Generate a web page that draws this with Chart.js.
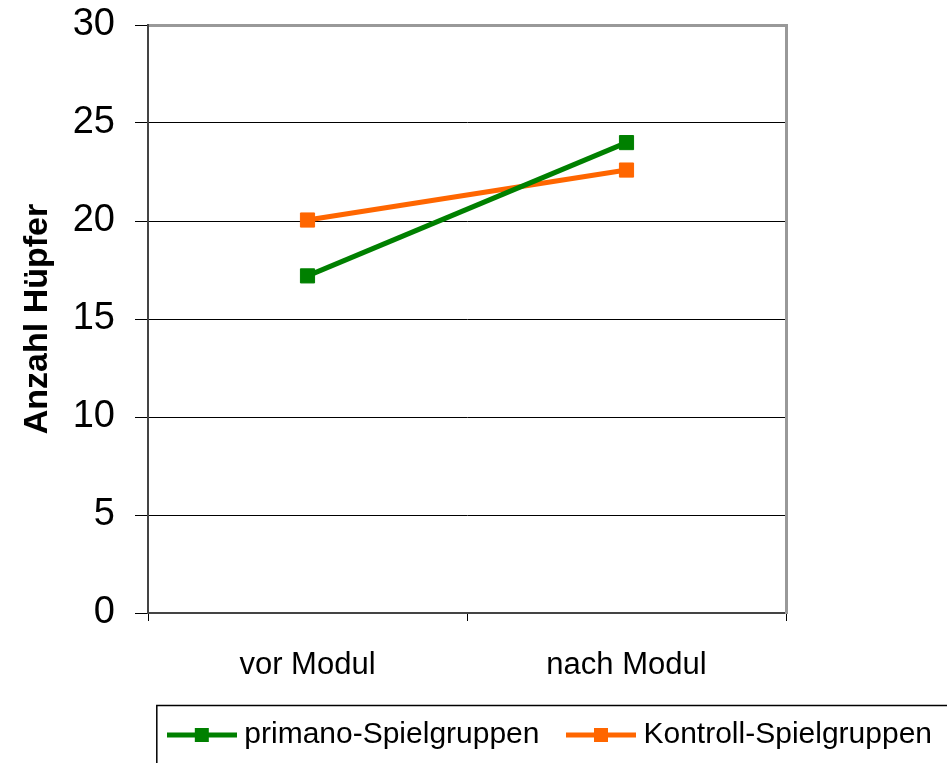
<!DOCTYPE html>
<html>
<head>
    <meta charset="utf-8">
    <title>Anzahl Hüpfer</title>
    <script src="https://cdn.jsdelivr.net/npm/chart.js"></script>
    <style>
        html, body { margin: 0; padding: 0; background: #fff; }
    </style>
</head>
<body>
    <div style="width: 947px; height: 763px">
        <canvas id="hopChart"></canvas>
    </div>
    <script>
        // data
        const categories = ['vor Modul', 'nach Modul'];
        const primanoValues = [17.2, 24.0];
        const kontrollValues = [20.05, 22.6];
        const seriesNames = ['primano-Spielgruppen', 'Kontroll-Spielgruppen'];
        const yMin = 0, yMax = 30, yStep = 5;
        const axisTitle = 'Anzahl Hüpfer';

        const fontFamily = "'Liberation Sans', Arial, sans-serif";
        const green = '#008000';
        const orange = '#FF6600';

        // line + square marker for the legend
        function legendMarker(color) {
            const c = document.createElement('canvas');
            c.width = 70;
            c.height = 16;
            const g = c.getContext('2d');
            g.strokeStyle = color;
            g.lineWidth = 5;
            g.beginPath();
            g.moveTo(0, 8);
            g.lineTo(70, 8);
            g.stroke();
            g.fillStyle = color;
            g.fillRect(28, 1, 14, 14);
            return c;
        }

        // box around the legend, partly off the canvas like in the original
        const legendFrame = {
            id: 'legendFrame',
            afterDraw(chart) {
                const lg = chart.legend;
                if (!lg || !lg.legendHitBoxes.length) return;
                const ctx = chart.ctx;
                const x = lg.legendHitBoxes[0].left - 18;
                const y = lg.top + 19;
                ctx.save();
                ctx.strokeStyle = '#000';
                ctx.lineWidth = 1.5;
                ctx.strokeRect(x + 0.5, y + 0.5, 1000, 200);
                ctx.restore();
            }
        };

        const ctx = document.getElementById('hopChart').getContext('2d');
        new Chart(ctx, {
            type: 'line',
            data: {
                labels: categories,
                datasets: [{
                    label: seriesNames[0],
                    data: primanoValues,
                    borderColor: green,
                    backgroundColor: green,
                    borderWidth: 5,
                    pointStyle: 'rect',
                    pointRadius: 10,
                    pointBorderWidth: 1,
                    pointHoverRadius: 10,
                    tension: 0,
                    yAxisID: 'y'
                }, {
                    label: seriesNames[1],
                    data: kontrollValues,
                    borderColor: orange,
                    backgroundColor: orange,
                    borderWidth: 5,
                    pointStyle: 'rect',
                    pointRadius: 10,
                    pointBorderWidth: 1,
                    pointHoverRadius: 10,
                    tension: 0,
                    yAxisID: 'y'
                }]
            },
            options: {
                responsive: true,
                maintainAspectRatio: false,
                animation: false,
                layout: {
                    padding: { left: 0, right: -19, top: 25, bottom: 3 }
                },
                plugins: {
                    tooltip: { enabled: false },
                    legend: {
                        position: 'bottom',
                        align: 'end',
                        labels: {
                            usePointStyle: true,
                            pointStyleWidth: 55,
                            padding: 34,
                            color: '#000',
                            font: { family: fontFamily, size: 30 },
                            generateLabels(chart) {
                                return chart.data.datasets.map((ds, i) => ({
                                    text: ds.label,
                                    pointStyle: legendMarker(ds.borderColor),
                                    fillStyle: ds.borderColor,
                                    strokeStyle: ds.borderColor,
                                    lineWidth: 0,
                                    fontColor: '#000',
                                    hidden: false,
                                    datasetIndex: i
                                }));
                            }
                        }
                    }
                },
                scales: {
                    x: {
                        type: 'category',
                        offset: true,
                        afterFit(scale) { scale.height = 73; },
                        grid: {
                            offset: true,
                            drawOnChartArea: false,
                            drawTicks: true,
                            tickLength: 8,
                            color: '#000',
                            lineWidth: 1
                        },
                        border: { display: true, color: '#444', width: 2 },
                        ticks: {
                            color: '#000',
                            padding: 26,
                            maxRotation: 0,
                            font: { family: fontFamily, size: 31 }
                        }
                    },
                    y: {
                        position: 'left',
                        min: yMin,
                        max: yMax,
                        afterFit(scale) {
                            scale.width = 148;
                            scale.paddingTop = 0;
                            scale.paddingBottom = 0;
                        },
                        grid: {
                            color: c => (c.tick && c.tick.value === yMax) ? '#999' : '#000',
                            lineWidth: c => (c.tick && c.tick.value === yMax) ? 3 : 1,
                            tickColor: '#000',
                            tickWidth: 1,
                            tickLength: 13,
                            drawTicks: true
                        },
                        border: { display: true, color: '#444', width: 2 },
                        ticks: {
                            stepSize: yStep,
                            color: '#000',
                            padding: 20,
                            font: { family: fontFamily, size: 38 }
                        },
                        title: {
                            display: true,
                            text: axisTitle,
                            color: '#000',
                            padding: { top: 17, bottom: 0 },
                            font: { family: fontFamily, size: 34, weight: 'bold' }
                        }
                    },
                    y1: {
                        position: 'right',
                        min: yMin,
                        max: yMax,
                        afterFit(scale) { scale.width = 180; },
                        grid: { drawOnChartArea: false, drawTicks: false },
                        border: { display: true, color: '#999', width: 3 },
                        ticks: { display: false }
                    }
                }
            },
            plugins: [legendFrame]
        });
    </script>
</body>
</html>
